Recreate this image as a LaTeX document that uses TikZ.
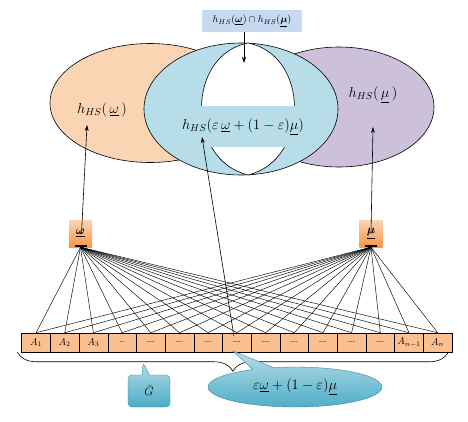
\documentclass[tikz,border=0pt]{standalone}
\usepackage{amsmath,bm}
\usetikzlibrary{arrows.meta,shapes.callouts,shapes.geometric,decorations.pathreplacing}
\definecolor{peach}{HTML}{FBD4B4}
\definecolor{lblue}{HTML}{B7DDE8}
\definecolor{lilac}{HTML}{CCC0DA}
\definecolor{topbox}{HTML}{C6D9F1}
\definecolor{cellor}{HTML}{FAC090}
\definecolor{tealdark}{HTML}{4BACC6}
\definecolor{teallight}{HTML}{B6DDE8}
\definecolor{orlight}{HTML}{FBD5B5}
\definecolor{ordark}{HTML}{F79646}
\begin{document}
\begin{tikzpicture}[x=1pt,y=-1pt,
  setell/.style={ellipse, draw=black, line width=0.6pt, inner sep=0pt},
  arr/.style={draw=black, line width=0.6pt, -{Stealth[length=6pt,width=4pt]}},
  fan/.style={draw=black, line width=0.45pt},
  cellbox/.style={rectangle, draw=black, line width=0.5pt, fill=cellor, minimum width=28.69pt, minimum height=19pt, inner sep=0pt, font=\fontsize{10}{11}\selectfont},
  vecbox/.style={rectangle, inner sep=0pt, minimum width=23pt, minimum height=27pt, top color=orlight, bottom color=ordark, font=\fontsize{12}{14}\selectfont},
  biglabel/.style={font=\fontsize{14.5}{17}\selectfont, inner sep=0pt},
  callfill/.style={top color=teallight, bottom color=tealdark, draw=tealdark!80!black, line width=0.4pt}
]
\useasboundingbox (0,0) rectangle (468,421);
% sets
\node[setell, fill=peach, minimum width=200pt, minimum height=119pt] (E1) at (150,103) {};
\node[setell, fill=lilac, minimum width=190pt, minimum height=120pt] (E3) at (339,107) {};
\node[setell, fill=lblue, minimum width=194pt, minimum height=132pt] (E2) at (241,109) {};
% lens
\draw[fill=white, line width=0.6pt] (248,43) .. controls (186,55) and (186,160) .. (248,175)
   .. controls (310,160) and (310,55) .. (248,43) -- cycle;
% centre label band
\node[fill=lblue, minimum height=41pt, inner xsep=2pt, biglabel] (L2) at (243,126.5)
   {$h_{HS}(\varepsilon\,\underline{\omega}+(1-\varepsilon)\underline{\mu})$};
\node[biglabel] (L1) at (102,110) {$h_{HS}(\,\underline{\omega}\,)$};
\node[biglabel] (L3) at (373,95) {$h_{HS}(\,\underline{\mu}\,)$};
% top box
\node[fill=topbox, minimum width=100pt, minimum height=22pt, inner sep=0pt, font=\fontsize{10}{12}\selectfont] (T) at (252,21)
   {$h_{HS}(\underline{\bm\omega})\cap h_{HS}(\underline{\bm\mu})$};
\coordinate (tT) at (244,63);
\draw[arr] (T.south -| tT) -- (tT);
% cells
\foreach \i/\t in {1/{$A_1$},2/{$A_2$},3/{$A_3$},4/{\fontsize{6}{7}\selectfont -{}-},5/{\fontsize{6}{7}\selectfont -{}-{}-},6/{\fontsize{6}{7}\selectfont -{}-{}-},7/{\fontsize{6}{7}\selectfont -{}-{}-},8/{\fontsize{6}{7}\selectfont -{}-{}-},9/{\fontsize{6}{7}\selectfont -{}-{}-},10/{\fontsize{6}{7}\selectfont -{}-{}-},11/{\fontsize{6}{7}\selectfont -{}-{}-},12/{\fontsize{6}{7}\selectfont -{}-{}-},13/{\fontsize{6}{7}\selectfont -{}-{}-},14/{$A_{n-1}$},15/{$A_n$}}
  \node[cellbox] (c\i) at ({21.7+28.69*(\i-0.5)},342.5) {\t};
% vector boxes
\node[vecbox] (w) at (80.5,233.5) {\raisebox{-5pt}{$\underline{\bm\omega}$}};
\node[vecbox] (m) at (371,233.5) {\raisebox{-5pt}{$\underline{\bm\mu}$}};
% fans
\foreach \i in {1,...,15} {
  \draw[fan] (w.south) -- (c\i.north);
  \draw[fan] (m.south) -- (c\i.north);
}
\fill[black] ([xshift=-6pt]w.south) rectangle ([xshift=6pt,yshift=2pt]w.south);
\fill[black] ([xshift=-6pt]m.south) rectangle ([xshift=6pt,yshift=2pt]m.south);
% arrows up
\coordinate (tw) at (87,125);
\coordinate (tm) at (373,127);
\coordinate (tc) at (202,137);
\draw[arr] ([xshift=1pt]w.center) -- (tw);
\draw[arr] (m.center) -- (tm);
\draw[arr] ([xshift=-3pt,yshift=-3pt]c8.north) -- (tc);
% brace
\draw[line width=0.6pt, decorate, decoration={brace, amplitude=19pt}] ([xshift=-4pt]c15.south east) -- ([xshift=-4pt]c1.south west);
% callouts
\node[rectangle callout, rounded corners=4pt, callfill, minimum width=42pt, minimum height=32pt, inner sep=0pt,
   callout absolute pointer={(143,362)}, font=\fontsize{12}{14}\selectfont] (G) at (149,391) {$\bar{G}$};
\node[ellipse callout, callfill, minimum width=174pt, minimum height=40pt, inner sep=0pt,
   callout absolute pointer={(233,351)}, font=\fontsize{15}{17}\selectfont] (C) at (295,387)
   {$\varepsilon\underline{\omega}+(1-\varepsilon)\underline{\mu}$};
\end{tikzpicture}
\end{document}
